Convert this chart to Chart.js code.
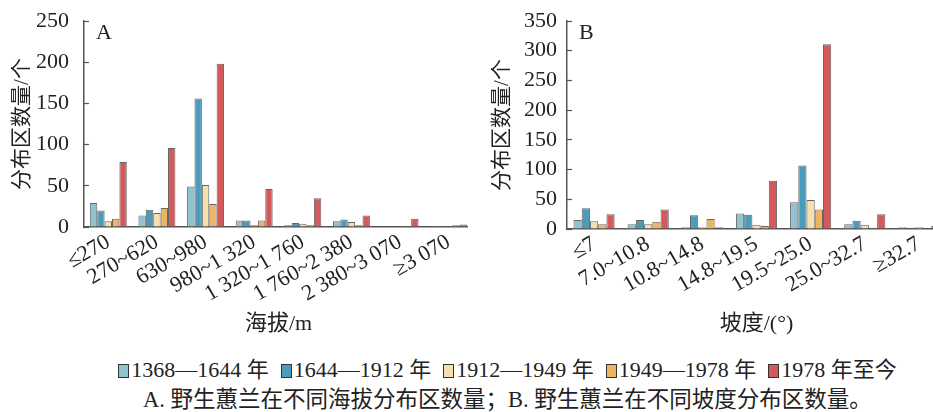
<!DOCTYPE html>
<html>
<head>
<meta charset="utf-8">
<script src="https://cdn.jsdelivr.net/npm/chart.js@4"></script>
<style>
  html, body { margin: 0; padding: 0; background: #fff; overflow: hidden; }
  body { width: 933px; height: 412px; position: relative; font-family: "Liberation Serif", "Noto Sans CJK SC", serif; color: #222; }
  #clipA { position: absolute; left: 0; top: 0; width: 468px; height: 345px; overflow: hidden; }
  #boxA { position: absolute; left: 0; top: 0; width: 473px; height: 345px; }
  #boxB { position: absolute; left: 470px; top: 0; width: 476px; height: 345px; }
  #legend { position: absolute; left: 0; width: 1015px; top: 357px; line-height: 26px; text-align: center; font-size: 22px; white-space: nowrap; }
  #legend span.item { margin: 0 6px; }
  #legend i { display: inline-block; width: 9px; height: 12px; border: 1.5px solid #333; margin-right: 2px; vertical-align: -1px; }
  #caption { position: absolute; left: 0; width: 1015px; top: 387px; line-height: 26px; text-align: center; font-size: 22.5px; white-space: nowrap; }
</style>
</head>
<body>
<div id="clipA"><div id="boxA"><canvas id="chartA"></canvas></div></div>
<div id="boxB"><canvas id="chartB"></canvas></div>
<div id="legend"></div>
<div id="caption">A. 野生蕙兰在不同海拔分布区数量；B. 野生蕙兰在不同坡度分布区数量。</div>
<script>
// categories
const altitudeLabels = ['≤270', '270~620', '630~980', '980~1 320', '1 320~1 760', '1 760~2 380', '2 380~3 070', '≥3 070'];
const slopeLabels = ['≤7', '7.0~10.8', '10.8~14.8', '14.8~19.5', '19.5~25.0', '25.0~32.7', '≥32.7'];

// series
const seriesNames = ['1368—1644 年', '1644—1912 年', '1912—1949 年', '1949—1978 年', '1978 年至今'];
const seriesColors = ['#8fc3d0', '#4b9bbd', '#f7dfb0', '#eeb464', '#d3595a'];

// A: altitude
const altMing = [29, 14, 49, 8, 2, 7, 0, 1];
const altQing = [20, 21, 156, 8, 5, 9, 0, 1];
const altRepublic = [7, 17, 51, 2, 4, 6, 0, 1];
const altEarlyPRC = [10, 23, 28, 8, 2, 2, 1, 2];
const altRecent = [79, 96, 198, 46, 35, 14, 10, 3];

// B: slope
const slopeMing = [15, 8, 3, 26, 45, 8, 3];
const slopeQing = [35, 15, 23, 24, 107, 14, 2];
const slopeRepublic = [13, 8, 3, 7, 49, 7, 3];
const slopeEarlyPRC = [8, 12, 17, 5, 33, 2, 1];
const slopeRecent = [25, 33, 3, 81, 311, 25, 5];

const yTicksA = [0, 50, 100, 150, 200, 250];
const yTicksB = [0, 50, 100, 150, 200, 250, 300, 350];

const serif = '"Liberation Serif", "Noto Sans CJK SC", serif';
const axisColor = '#555';

// legend as html
const legend = document.getElementById('legend');
seriesNames.forEach((name, i) => {
  const item = document.createElement('span');
  item.className = 'item';
  item.innerHTML = '<i style="background:' + seriesColors[i] + '"></i>' + name;
  legend.appendChild(item);
});

// panel letter in top-left of plot
const panelLetter = {
  id: 'panelLetter',
  afterDraw(chart, args, opts) {
    const ctx = chart.ctx;
    ctx.save();
    ctx.font = '22px ' + serif;
    ctx.fillStyle = '#222';
    ctx.textBaseline = 'top';
    ctx.fillText(opts.text, chart.chartArea.left + 12, chart.chartArea.top + 1);
    ctx.restore();
  }
};

// fixed sizes: yWidth = plot left edge, xHeight = space below plot
function makeChart(id, labels, values, ticks, xTitle, letter, sizes) {
  return new Chart(document.getElementById(id), {
    type: 'bar',
    data: {
      labels: labels,
      datasets: values.map((v, i) => ({
        label: seriesNames[i],
        data: v,
        backgroundColor: seriesColors[i],
        borderColor: '#666',
        borderWidth: 1,
        barPercentage: 1,
        categoryPercentage: 0.76
      }))
    },
    options: {
      responsive: true,
      maintainAspectRatio: false,
      animation: false,
      layout: { padding: { top: 21, left: 0, right: 0, bottom: 8 } },
      plugins: {
        legend: { display: false },
        tooltip: { enabled: false },
        panelLetter: { text: letter }
      },
      scales: {
        x: {
          afterFit: (axis) => {
            axis.height = sizes.xHeight;
            axis.paddingLeft = 0;
            axis.paddingRight = 0;
          },
          grid: { drawOnChartArea: false, drawTicks: false },
          border: { color: axisColor, width: 1.5 },
          ticks: {
            color: '#222',
            font: { family: serif, size: 22 },
            minRotation: 30,
            maxRotation: 30,
            padding: 2,
            autoSkip: false
          },
          title: {
            display: true,
            text: xTitle,
            color: '#222',
            font: { family: serif, size: 22 },
            padding: { top: 4, bottom: 0 }
          }
        },
        y: {
          min: 0,
          max: ticks[ticks.length - 1],
          afterBuildTicks: (axis) => { axis.ticks = ticks.map(v => ({ value: v })); },
          afterFit: (axis) => {
            axis.width = sizes.yWidth;
            axis.paddingTop = 0;
            axis.paddingBottom = 0;
          },
          // short inward tick marks
          grid: { drawOnChartArea: false, drawTicks: true, tickLength: -5, tickColor: axisColor, tickWidth: 1.2 },
          border: { color: axisColor, width: 1.5 },
          ticks: {
            color: '#222',
            font: { family: serif, size: 22 },
            padding: sizes.tickPad,
            autoSkip: false
          },
          title: {
            display: true,
            text: '分布区数量/个',
            color: '#222',
            font: { family: serif, size: 21 },
            padding: { top: sizes.titlePad, bottom: 0 }
          }
        }
      }
    },
    plugins: [panelLetter]
  });
}

makeChart('chartA', altitudeLabels,
  [altMing, altQing, altRepublic, altEarlyPRC, altRecent],
  yTicksA, '海拔/m', 'A',
  { yWidth: 84, xHeight: 110, tickPad: 20, titlePad: 10 });

makeChart('chartB', slopeLabels,
  [slopeMing, slopeQing, slopeRepublic, slopeEarlyPRC, slopeRecent],
  yTicksB, '坡度/(°)', 'B',
  { yWidth: 97, xHeight: 108, tickPad: 15, titlePad: 20 });
</script>
</body>
</html>
